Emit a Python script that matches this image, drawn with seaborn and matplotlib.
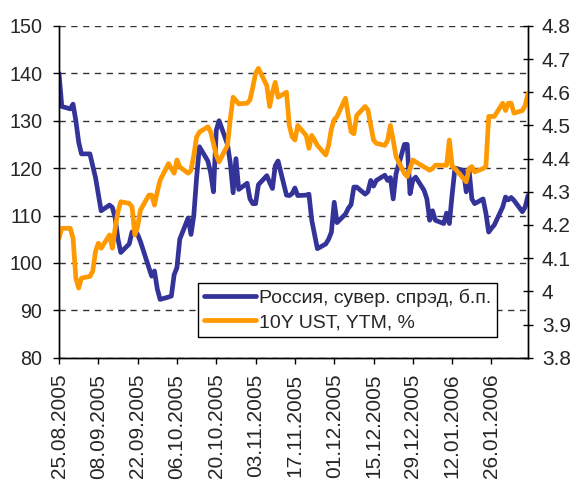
import matplotlib
matplotlib.use("Agg")
import matplotlib.pyplot as plt
import matplotlib.dates as mdates
from matplotlib.ticker import FuncFormatter
from matplotlib.lines import Line2D
import seaborn as sns
import pandas as pd

# ---- data ----
dates = pd.bdate_range("2005-08-25", "2006-02-08")

russia_spread = [
    140, 133,
    132.5, 133.5, 130, 125.5, 123,
    123, 120.5, 118, 114.5, 111,
    112.2, 111.7, 109.5, 105, 102.2,
    104, 106.5, 106.8, 106, 104.5,
    99, 97.2, 98.3, 94.5, 92.3,
    92.8, 93, 97.5, 99, 105,
    109.5, 106, 110, 118, 124.5,
    121.5, 119, 115, 128, 130,
    125, 121, 114.8, 122, 115.5,
    116.8, 113.5, 112.5, 112.5, 116.5,
    118.4, 117, 115.7, 120.5, 121.5,
    114.3, 114.2, 114.6, 115.8, 114.2,
    114.3, 114.5, 109, 106, 103,
    104, 105, 106.5, 112.8, 108.5,
    110.3, 111.5, 112.3, 116, 116,
    114.5, 115, 117.4, 116.2, 117.4,
    118.5, 117.4, 118, 113.5, 118.8,
    125, 125, 114.6, 117.5, 118.1,
    115.3, 113.5, 109, 111, 109,
    108.3, 110.5, 108.3, 114.5, 120,
    119.5, 115, 119.8, 113.5, 112.5,
    113.5, 110.5, 106.5, 107.3, 108,
    111.8, 113.9, 113.3, 113.8, 113.2,
    110.8, 111.8, 114.2,
]

ust_ytm = [
    4.16, 4.19,
    4.19, 4.16, 4.04, 4.01, 4.04,
    4.045, 4.06, 4.12, 4.145, 4.13,
    4.17, 4.13, 4.19, 4.24, 4.27,
    4.265, 4.255, 4.17, 4.195, 4.245,
    4.29, 4.29, 4.26, 4.30, 4.335,
    4.385, 4.37, 4.356, 4.396, 4.375,
    4.356, 4.365, 4.41, 4.465, 4.48,
    4.496, 4.48, 4.446, 4.41, 4.39,
    4.44, 4.52, 4.585, 4.575, 4.565,
    4.567, 4.577, 4.615, 4.657, 4.672,
    4.62, 4.557, 4.60, 4.63, 4.585,
    4.60, 4.50, 4.466, 4.456, 4.50,
    4.47, 4.431, 4.47, 4.456, 4.44,
    4.411, 4.44, 4.49, 4.517, 4.527,
    4.582, 4.53, 4.481, 4.475, 4.53,
    4.557, 4.547, 4.50, 4.456, 4.446,
    4.44, 4.455, 4.50, 4.456, 4.406,
    4.355, 4.346, 4.37, 4.396, 4.39,
    4.375, 4.37, 4.365, 4.37, 4.38,
    4.38, 4.38, 4.456, 4.376, 4.37,
    4.34, 4.33, 4.37, 4.376, 4.36,
    4.37, 4.376, 4.527, 4.527, 4.527,
    4.567, 4.545, 4.567, 4.567, 4.537,
    4.545, 4.56, 4.597,
]

label_russia = "Россия, сувер. спрэд, б.п."
label_ust = "10Y UST, YTM, %"
xtick_dates = pd.date_range("2005-08-25", periods=12, freq="14D")
left_ticks = [80, 90, 100, 110, 120, 130, 140, 150]
right_ticks = [3.8, 3.9, 4.0, 4.1, 4.2, 4.3, 4.4, 4.5, 4.6, 4.7, 4.8]

df = pd.DataFrame({"date": dates, "spread": russia_spread, "ytm": ust_ytm})

# ---- style ----
sns.set_style("white")
plt.rcParams["font.family"] = ["Liberation Sans", "DejaVu Sans"]

BLUE = "#333399"
ORANGE = "#FF9900"
LW = 3.4

fig = plt.figure(figsize=(5.78, 4.88), dpi=100)
ax = fig.add_axes([59 / 578, 1 - 357.7 / 488, 469 / 578, 331.8 / 488])

sns.lineplot(data=df, x="date", y="spread", ax=ax, color=BLUE, lw=LW,
             legend=False, solid_joinstyle="round", solid_capstyle="round")
ax2 = ax.twinx()
sns.lineplot(data=df, x="date", y="ytm", ax=ax2, color=ORANGE, lw=LW,
             legend=False, solid_joinstyle="round", solid_capstyle="round")

ax.set_xlim(pd.Timestamp("2005-08-25"), pd.Timestamp("2006-02-08"))
ax.set_ylim(80, 150)
ax2.set_ylim(3.8, 4.8)

ax.set_xlabel("")
ax.set_ylabel("")
ax2.set_ylabel("")

ax.set_yticks(left_ticks)
ax2.set_yticks(right_ticks)
ax2.yaxis.set_major_formatter(FuncFormatter(lambda v, p: f"{v:g}"))
ax.set_xticks(xtick_dates)
ax.xaxis.set_major_formatter(mdates.DateFormatter("%d.%m.%Y"))

ax.yaxis.grid(True, linestyle=(0, (4.5, 4)), color="#333333", lw=1.0)
ax.xaxis.grid(False)
ax2.grid(False)

for a in (ax, ax2):
    a.spines["top"].set_visible(False)
    for s in ("left", "right", "bottom"):
        a.spines[s].set_color("black")
        a.spines[s].set_linewidth(1.0)

ax.tick_params(axis="y", direction="out", length=4.5, width=1, color="black",
               labelsize=14.2, pad=7.5, left=True)
ax.tick_params(axis="x", direction="out", length=4.5, width=1, color="black",
               labelsize=15, pad=7, bottom=True, labelrotation=90)
ax2.tick_params(axis="y", direction="inout", length=7, width=1, color="black",
                labelsize=15, pad=6.5, right=True)

for lbl in ax.get_xticklabels():
    lbl.set_rotation(90)
    lbl.set_ha("center")
    lbl.set_va("top")

handles = [Line2D([], [], color=BLUE, lw=LW, solid_capstyle="round"),
           Line2D([], [], color=ORANGE, lw=LW, solid_capstyle="round")]
leg = fig.legend(handles, [label_russia, label_ust],
                 loc="lower left", bbox_to_anchor=(198 / 578, 1 - 337 / 488),
                 fontsize=14, frameon=True, fancybox=False, framealpha=1,
                 edgecolor="black", handlelength=2.7, handletextpad=0.15,
                 borderpad=0.3, labelspacing=0.35, borderaxespad=0)
leg.get_frame().set_linewidth(1.0)

fig.savefig("out.png", dpi=100)
